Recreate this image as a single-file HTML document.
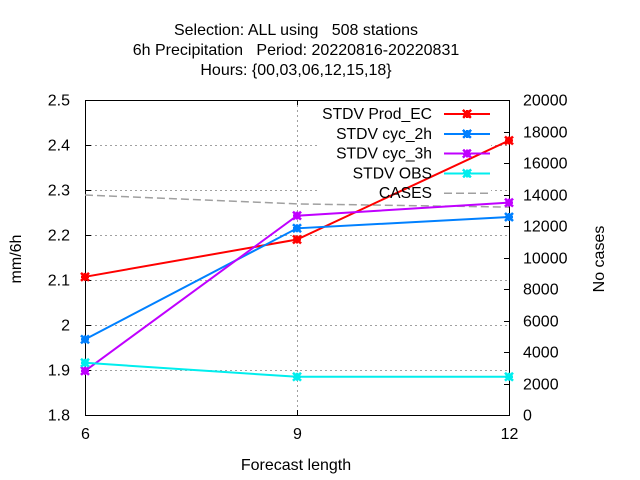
<!DOCTYPE html>
<html>
<head>
<meta charset="utf-8">
<title>STDV chart</title>
<style>
html,body{margin:0;padding:0;background:#fff;}
svg{display:block;}
text{font-family:"Liberation Sans",sans-serif;font-size:16px;fill:#000;white-space:pre;}
</style>
</head>
<body>
<svg id="chart" xmlns="http://www.w3.org/2000/svg" width="640" height="480" viewBox="0 0 640 480" shape-rendering="crispEdges">
  <rect width="640" height="480" fill="#fff"/>
  <g text-anchor="middle">
    <text x="296" y="35" xml:space="preserve">Selection: ALL using   508 stations</text>
    <text x="296" y="55" xml:space="preserve">6h Precipitation   Period: 20220816-20220831</text>
    <text x="296" y="75">Hours: {00,03,06,12,15,18}</text>
  </g>
  <g id="grid"></g>
  <rect x="317" y="101" width="174" height="99" fill="#fff"/>
  <g id="axes"></g>
  <g id="series" shape-rendering="auto"></g>
  <g id="legend"></g>
  <text text-anchor="middle" transform="translate(21,259) rotate(-90)">mm/6h</text>
  <text text-anchor="middle" transform="translate(604,259) rotate(-90)">No cases</text>
  <text text-anchor="middle" x="296" y="470">Forecast length</text>
</svg>
<script>
const categories = [6, 9, 12];
const stdvProdEc = [2.107, 2.19, 2.41];
const stdvCyc2h = [1.968, 2.215, 2.24];
const stdvCyc3h = [1.898, 2.243, 2.272];
const stdvObs = [1.916, 1.885, 1.885];
const cases = [13970, 13400, 13200];
const yTicks = ["1.8", "1.9", "2", "2.1", "2.2", "2.3", "2.4", "2.5"];
const y2Ticks = [0, 2000, 4000, 6000, 8000, 10000, 12000, 14000, 16000, 18000, 20000];
const legendLabels = ["STDV Prod_EC", "STDV cyc_2h", "STDV cyc_3h", "STDV OBS", "CASES"];

const NS = "http://www.w3.org/2000/svg";
const L = 85, R = 509, T = 100, B = 415;
const xScale = v => L + (v - categories[0]) / (categories[categories.length - 1] - categories[0]) * (R - L);
const yScale = v => B - (v - parseFloat(yTicks[0])) / (parseFloat(yTicks[yTicks.length - 1]) - parseFloat(yTicks[0])) * (B - T);
const y2Scale = v => B - (v - y2Ticks[0]) / (y2Ticks[y2Ticks.length - 1] - y2Ticks[0]) * (B - T);

function mk(parent, tag, attrs) {
  const el = document.createElementNS(NS, tag);
  for (const k in attrs) el.setAttribute(k, attrs[k]);
  parent.appendChild(el);
  return el;
}
const grid = document.getElementById("grid");
const axes = document.getElementById("axes");
const seriesG = document.getElementById("series");
const legend = document.getElementById("legend");

yTicks.forEach(t => {
  const y = Math.round(yScale(parseFloat(t))) + 0.5;
  if (t !== yTicks[0] && t !== yTicks[yTicks.length - 1]) {
    const g = mk(grid, "line", {x1: L, x2: R, y1: y, y2: y, stroke: "#a0a0a0", "stroke-width": 1, "stroke-dasharray": "2 3"});
    
    
  }
  const tick = mk(axes, "line", {x1: L, x2: L + 6, y1: y, y2: y, stroke: "#000", "stroke-width": 1});
  
  
  const lab = mk(axes, "text", {x: 70, y: y + 5, "text-anchor": "end"});
  lab.textContent = t;
  
  
});

y2Ticks.forEach(t => {
  const y = Math.round(y2Scale(t)) + 0.5;
  const tick = mk(axes, "line", {x1: R - 5, x2: R, y1: y, y2: y, stroke: "#000", "stroke-width": 1});
  
  
  const lab = mk(axes, "text", {x: 523, y: y + 5});
  lab.textContent = String(t);
  
  
});

categories.forEach((c, i) => {
  const x = Math.round(xScale(c)) + 0.5;
  if (i > 0 && i < categories.length - 1) {
    const g = mk(grid, "line", {x1: x, x2: x, y1: T, y2: B, stroke: "#a0a0a0", "stroke-width": 1, "stroke-dasharray": "2 3"});
    
    
  }
  const tick = mk(axes, "line", {x1: x, x2: x, y1: B - 5, y2: B, stroke: "#000", "stroke-width": 1});
  
  
  const tickTop = mk(axes, "line", {x1: x, x2: x, y1: T, y2: T + 5, stroke: "#000", "stroke-width": 1});
  
  
  const lab = mk(axes, "text", {x: x, y: 439, "text-anchor": "middle"});
  lab.textContent = String(c);
  
  
});

const frame = mk(axes, "rect", {x: L + 0.5, y: T + 0.5, width: R - L, height: B - T, fill: "none", stroke: "#000", "stroke-width": 1});



function marker(parent, x, y, color) {
  const s = 4;
  const p = mk(parent, "path", {
    d: `M${x - s} ${y}H${x + s}M${x} ${y - s}V${y + s}M${x - s} ${y - s}L${x + s} ${y + s}M${x - s} ${y + s}L${x + s} ${y - s}`,
    stroke: color, "stroke-width": 2.5, fill: "none"
  });
  
  
}

function drawLine(values, scale, color, name, dash, hasMarkers) {
  const g = mk(seriesG, "g", {});
  
  
  const pts = values.map((v, i) => xScale(categories[i]).toFixed(1) + "," + scale(v).toFixed(1)).join(" ");
  const attrs = {points: pts, fill: "none", stroke: color, "stroke-width": dash ? 1.5 : 2};
  if (dash) attrs["stroke-dasharray"] = dash;
  const line = mk(g, "polyline", attrs);
  
  
  if (hasMarkers) values.forEach((v, i) => marker(g, xScale(categories[i]), scale(v), color));
}

drawLine(cases, y2Scale, "#a0a0a0", "series-cases", "8 4", false);
drawLine(stdvProdEc, yScale, "#ff0000", "series-stdv-prod-ec", null, true);
drawLine(stdvCyc2h, yScale, "#0080ff", "series-stdv-cyc-2h", null, true);
drawLine(stdvCyc3h, yScale, "#c000ff", "series-stdv-cyc-3h", null, true);
drawLine(stdvObs, yScale, "#00eeee", "series-stdv-obs", null, true);

const legendColors = ["#ff0000", "#0080ff", "#c000ff", "#00eeee", "#a0a0a0"];
legendLabels.forEach((label, i) => {
  const y = 114 + i * 19.8;
  const t = mk(legend, "text", {x: 432, y: y + 5, "text-anchor": "end", style: "font-size:15.7px"});
  t.textContent = label;
  
  
  const isCases = i === legendLabels.length - 1;
  const attrs = {x1: 444, x2: 490, y1: y, y2: y, stroke: legendColors[i], "stroke-width": isCases ? 1.5 : 2};
  if (isCases) attrs["stroke-dasharray"] = "8 4";
  const s = mk(legend, "line", attrs);
  
  
  if (!isCases) marker(legend, 467, y, legendColors[i]);
});
</script>
</body>
</html>
